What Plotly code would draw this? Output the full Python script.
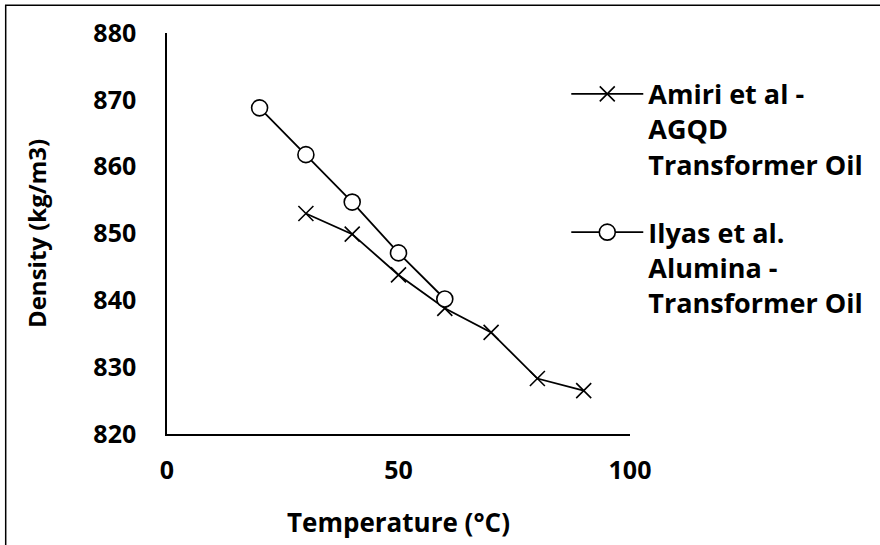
import plotly.graph_objects as go

# Data
amiri_temp = [30, 40, 50, 60, 70, 80, 90]
amiri_density = [853.0, 849.9, 843.8, 838.8, 835.2, 828.3, 826.5]
ilyas_temp = [20, 30, 40, 50, 60]
ilyas_density = [868.8, 861.8, 854.7, 847.1, 840.2]

amiri_name = "Amiri et al -<br>AGQD<br>Transformer Oil"
ilyas_name = "Ilyas et al.<br>Alumina -<br>Transformer Oil"

x_ticks = [0, 50, 100]
y_ticks = [820, 830, 840, 850, 860, 870, 880]

FONT = "Open Sans"

fig = go.Figure()
fig.add_trace(go.Scatter(
    x=amiri_temp, y=amiri_density, name=amiri_name, mode="lines+markers",
    legendgroup="a",
    line=dict(color="black", width=1.8),
    marker=dict(symbol="x-thin-open", size=15, color="black",
                line=dict(color="black", width=1.6)),
))
fig.add_trace(go.Scatter(
    x=ilyas_temp, y=ilyas_density, name=ilyas_name, mode="lines+markers",
    legendgroup="b",
    line=dict(color="black", width=1.8),
    marker=dict(symbol="circle", size=16, color="white",
                line=dict(color="black", width=1.6)),
))

L, R, T, B = 167, 248, 33, 109
W, H = 880, 545
pw, ph = W - L - R, H - T - B

def px_x(p):
    return (p - L) / pw

def px_y(p):
    return (H - B - p) / ph

fig.add_shape(type="rect", xref="paper", yref="paper",
              x0=px_x(5), x1=px_x(W + 10), y0=px_y(5), y1=px_y(H + 10),
              line=dict(color="black", width=1.5), fillcolor="rgba(0,0,0,0)",
              layer="below")

fig.update_layout(
    width=W, height=H,
    margin=dict(l=L, r=R, t=T, b=B),
    paper_bgcolor="white", plot_bgcolor="white",
    font=dict(family=FONT, color="black"),
    showlegend=True,
    legend=dict(
        x=px_x(568), y=px_y(70), xanchor="left", yanchor="top",
        font=dict(family=FONT, size=27, color="black", weight="bold"),
        valign="top", itemwidth=72, traceorder="grouped", tracegroupgap=30,
        bgcolor="rgba(0,0,0,0)",
    ),
    xaxis=dict(
        range=[0, 100], tickvals=x_ticks, showgrid=False, zeroline=False,
        showline=True, linecolor="black", linewidth=1.5, ticks="",
        ticklabelstandoff=13,
        tickfont=dict(family=FONT, size=25, color="black", weight="bold"),
        title=dict(text="Temperature (°C)", standoff=29,
                   font=dict(family=FONT, size=26, color="black", weight="bold")),
    ),
    yaxis=dict(
        range=[820, 880], tickvals=y_ticks, showgrid=False, zeroline=False,
        showline=True, linecolor="black", linewidth=1.5, ticks="",
        ticklabelstandoff=24,
        tickfont=dict(family=FONT, size=25, color="black", weight="bold"),
        title=dict(text="Density (kg/m3)", standoff=40,
                   font=dict(family=FONT, size=24, color="black", weight="bold")),
    ),
)

fig.write_html("out.html", config={"displayModeBar": False},
               post_script="document.body.style.margin='0';")
